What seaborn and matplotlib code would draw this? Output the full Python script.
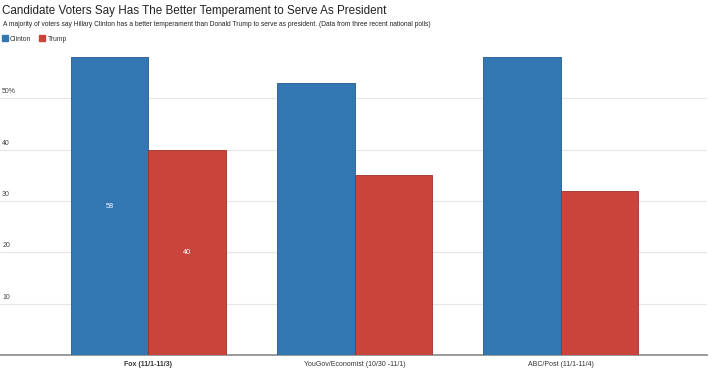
import pandas as pd
import matplotlib.pyplot as plt
import seaborn as sns
from matplotlib.patches import Patch

polls = ["Fox (11/1-11/3)", "YouGov/Economist (10/30 -11/1)", "ABC/Post (11/1-11/4)"]
clinton = [58, 53, 58]
trump = [40, 35, 32]
yticks = [10, 20, 30, 40, 50]
ytick_labels = ["10", "20", "30", "40", "50%"]

BLUE = "#3277b2"
RED = "#c9443a"

df = pd.DataFrame({
    "poll": polls * 2,
    "candidate": ["Clinton"] * 3 + ["Trump"] * 3,
    "pct": clinton + trump,
})

sns.set_style("white")
plt.rcParams["font.family"] = ["Liberation Sans", "DejaVu Sans"]

fig = plt.figure(figsize=(7.2, 3.74), dpi=100)
ax = fig.add_axes([0, 19 / 374, 707 / 720, 305 / 374])

sns.barplot(
    data=df, x="poll", y="pct", hue="candidate",
    palette=[BLUE, RED], width=0.75, saturation=1,
    legend=False, ax=ax,
)
for bar, c in zip(ax.patches, [BLUE] * 3 + [RED] * 3):
    bar.set_edgecolor("#25598a" if c == BLUE else "#9e3029")
    bar.set_linewidth(0.6)
    bar.set_zorder(3)

ax.set_xlim(-0.72, 2.71)
ax.set_ylim(0, 59.45)
ax.set_yticks(yticks)
ax.set_yticklabels([])
ax.tick_params(axis="y", length=0)
ax.tick_params(axis="x", length=0, pad=4, labelsize=5.0, labelcolor="#333333")
ax.set_xlabel("")
ax.set_ylabel("")
ax.yaxis.grid(True, color="#e6e6e6", linewidth=0.8, zorder=0)
ax.set_axisbelow(True)
for s in ["top", "right", "left"]:
    ax.spines[s].set_visible(False)
ax.spines["bottom"].set_color("#9a9a9a")
ax.spines["bottom"].set_linewidth(1.4)
ax.get_xticklabels()[0].set_fontweight("bold")

for v, lab in zip(yticks, ytick_labels):
    ax.text(0.003, v + 0.6, lab, transform=ax.get_yaxis_transform(),
            fontsize=5.0, color="#444444", va="bottom", ha="left")

# value labels on the first poll
ax.text(0 - 0.1875, clinton[0] / 2, str(clinton[0]), color="white",
        fontsize=5.2, ha="center", va="center", zorder=4)
ax.text(0 + 0.1875, trump[0] / 2, str(trump[0]), color="white",
        fontsize=5.2, ha="center", va="center", zorder=4)

fig.text(0.003, 1 - 11 / 374, "Candidate Voters Say Has The Better Temperament to Serve As President",
         fontsize=8.4, color="#222222", va="center", ha="left")
fig.text(0.004, 1 - 24.5 / 374,
         "A majority of voters say Hillary Clinton has a better temperament than Donald Trump to serve as president. (Data from three recent national polls)",
         fontsize=4.75, color="#222222", va="center", ha="left")

handles = [Patch(facecolor=BLUE, edgecolor=BLUE), Patch(facecolor=RED, edgecolor=RED)]
fig.legend(handles, ["Clinton", "Trump"], loc="center left",
           bbox_to_anchor=(-0.006, 1 - 39 / 374), ncol=2, frameon=False,
           fontsize=4.9, handlelength=0.85, handleheight=0.85,
           handletextpad=0.35, columnspacing=1.2, labelcolor="#333333")

fig.savefig("out.png", dpi=100)
plt.close(fig)
